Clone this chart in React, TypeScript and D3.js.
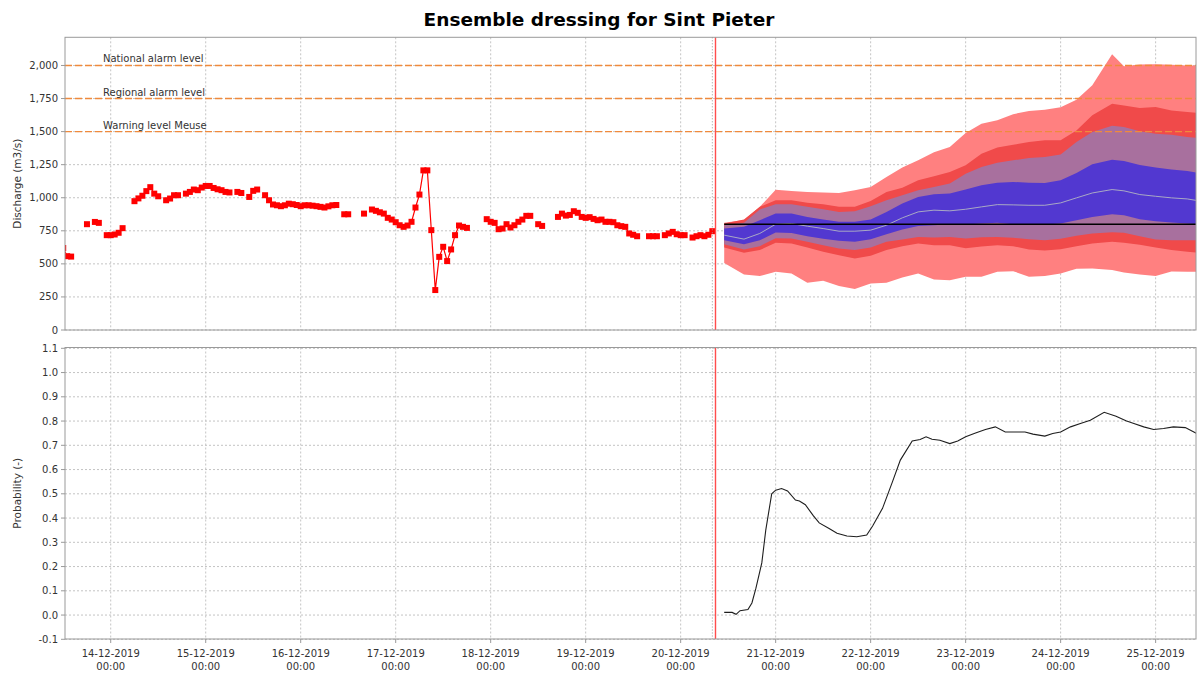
import React from "react";
import * as d3 from "d3";

// ---------- DATA ----------
// hours are counted from 14-12-2019 00:00
const chartTitle = "Ensemble dressing for Sint Pieter";
const dischargeAxisTitle = "Discharge (m3/s)";
const probabilityAxisTitle = "Probability (-)";

const dayTickHours = [0, 24, 48, 72, 96, 120, 144, 168, 192, 216, 240, 264];
const dayTickDates = [
  "14-12-2019", "15-12-2019", "16-12-2019", "17-12-2019", "18-12-2019", "19-12-2019",
  "20-12-2019", "21-12-2019", "22-12-2019", "23-12-2019", "24-12-2019", "25-12-2019",
];
const dayTickTime = "00:00";

const dischargeTicks = [0, 250, 500, 750, 1000, 1250, 1500, 1750, 2000];
const probabilityTicks = [-0.1, 0, 0.1, 0.2, 0.3, 0.4, 0.5, 0.6, 0.7, 0.8, 0.9, 1.0, 1.1];

const thresholdValues = [2000, 1750, 1500];
const thresholdLabels = ["National alarm level", "Regional alarm level", "Warning level Meuse"];

const exceedanceLevel = 800;
const lastObservationHour = 152;
const forecastStartHour = 152.8;

// observed discharge, hourly from obsStartHour (null = missing)
const obsStartHour = -12;
const observedDischarge: (number | null)[] = [
  620, 558, 555, null, null, null, 800, null, 817, 810, null, 717, 717, 722, 735, 770, // -12..3
  null, null, 974, 995, 1015, 1050, 1080, 1031, 1011, null, 981, 994, 1019, 1019, null, // 4..18
  1031, 1044, 1062, 1057, 1077, 1089, 1089, 1074, 1064, 1057, 1044, 1040, null, 1044, 1036, null, // 19..34
  1006, 1052, 1062, null, 1019, 981, 949, 943, 936, 943, 955, 951, 945, 936, 943, 943, // 35..50
  940, 936, 931, 926, 935, 943, 945, null, 875, 875, null, null, null, 880, null, // 51..65
  911, 901, 890, 880, 848, 835, 815, 792, 780, 790, 818, 926, 1024, 1207, 1207, 755, // 66..81
  302, 553, 629, 521, 609, 717, 790, 780, 772, null, null, null, null, // 82..94
  838, 818, 810, 762, 767, 800, 775, 792, 818, 835, 863, 863, null, 800, 787, // 95..109
  null, null, null, 855, 880, 865, 870, 898, 886, 855, 848, 853, 840, 830, 835, // 110..124
  818, 818, 815, 792, 785, 780, 730, 720, 709, null, null, 709, 709, 709, null, // 125..139
  717, 730, 742, 724, 717, 717, null, 699, 709, 717, 709, 720, 747, // 140..152
];

// ensemble forecast bands
const forecastHours = [
  155, 160, 164, 168, 172, 176, 180, 184, 188, 192, 196, 200, 204, 208, 212, 216,
  220, 224, 228, 232, 236, 240, 244, 248, 253, 256, 260, 264, 268, 272, 275,
];
const outerUpper = [
  811, 831, 931, 1060, 1050, 1044, 1039, 1036, 1057, 1082, 1157, 1228, 1283, 1343, 1384, 1490,
  1560, 1585, 1632, 1655, 1665, 1685, 1741, 1850, 2085, 1995, 2008, 2010, 2005, 2000, 2000,
];
const outerLower = [
  507, 420, 408, 440, 428, 357, 372, 332, 310, 352, 357, 397, 428, 382, 377, 403,
  403, 440, 445, 403, 408, 428, 463, 465, 453, 435, 420, 408, 443, 440, 440,
];
const redUpper = [
  805, 835, 931, 981, 981, 963, 951, 931, 931, 976, 1044, 1076, 1132, 1162, 1195, 1245,
  1333, 1379, 1401, 1421, 1434, 1434, 1509, 1623, 1711, 1698, 1678, 1686, 1660, 1648, 1640,
];
const redLower = [
  624, 584, 604, 659, 654, 624, 591, 566, 541, 561, 604, 634, 654, 641, 641, 619,
  631, 641, 634, 609, 601, 611, 634, 654, 667, 659, 644, 624, 604, 591, 584,
];
const purpleUpper = [
  792, 811, 911, 951, 951, 931, 913, 893, 898, 936, 981, 1019, 1057, 1082, 1107, 1182,
  1233, 1265, 1283, 1301, 1308, 1326, 1421, 1497, 1545, 1535, 1502, 1484, 1477, 1459, 1452,
];
const purpleLower = [
  649, 609, 634, 694, 692, 667, 641, 616, 604, 624, 667, 684, 704, 699, 704, 692,
  702, 704, 697, 687, 679, 689, 712, 730, 740, 735, 709, 684, 679, 679, 679,
];
const blueUpper = [
  767, 780, 830, 880, 880, 855, 835, 818, 818, 835, 893, 956, 1006, 1026, 1032, 1062,
  1094, 1114, 1119, 1114, 1112, 1132, 1187, 1253, 1288, 1278, 1248, 1228, 1213, 1202, 1187,
];
const blueLower = [
  679, 649, 679, 737, 734, 709, 689, 674, 667, 687, 724, 760, 787, 792, 800, 797,
  805, 810, 800, 797, 797, 805, 830, 855, 875, 868, 838, 823, 813, 805, 800,
];
const medianForecast = [
  717, 687, 730, 800, 805, 785, 767, 747, 747, 755, 792, 848, 893, 906, 901, 913,
  931, 948, 946, 943, 943, 961, 999, 1036, 1062, 1052, 1024, 1011, 999, 991, 976,
];

// probability of exceeding the level
const probabilityHours = [
  155, 157, 158, 159, 161, 162, 163, 164.5, 165.5, 167, 168, 169.5, 171, 173, 174, 175.5,
  177.5, 179, 181.5, 183.5, 186, 188.5, 191, 192.5, 195, 197.5, 199.5, 202.5, 204.5, 206,
  207.5, 209.5, 212, 214, 216, 218.5, 221, 223.5, 226, 231, 233, 236, 238, 240, 242.5,
  245, 247.5, 251, 254, 256.5, 258.5, 261, 263.5, 266, 268.5, 271.5, 274.3,
];
const probabilityValues = [
  0.011, 0.011, 0.003, 0.018, 0.023, 0.05, 0.11, 0.215, 0.35, 0.5, 0.515, 0.522, 0.512, 0.474, 0.47, 0.455,
  0.41, 0.38, 0.357, 0.337, 0.326, 0.323, 0.33, 0.367, 0.44, 0.549, 0.639, 0.718, 0.724, 0.735,
  0.725, 0.721, 0.707, 0.718, 0.735, 0.751, 0.765, 0.776, 0.755, 0.755, 0.746, 0.738, 0.749, 0.755, 0.776,
  0.79, 0.803, 0.836, 0.82, 0.801, 0.79, 0.776, 0.765, 0.769, 0.776, 0.773, 0.749,
];

// ---------- STYLE ----------
const FONT = "'DejaVu Sans', Verdana, sans-serif";
const GRID = "#c4c4c4";
const AXIS = "#9a9a9a";
const TEXT = "#333333";

export default function App() {
  const W = 1198;
  const H = 675;
  const left = 65;
  const right = 1196;
  const topY0 = 37.3;
  const topY1 = 330;
  const botY0 = 347.5;
  const botY1 = 639;

  const x = d3.scaleLinear().domain([-11.55, 274.2]).range([left, right]);
  const yQ = d3.scaleLinear().domain([0, 2213]).range([topY1, topY0]);
  const yP = d3.scaleLinear().domain([-0.1, 1.1]).range([639.3, 348.3]);

  const idx = forecastHours.map((_, i) => i);
  const band = (lo: number[], hi: number[]) =>
    d3
      .area<number>()
      .x((i) => x(forecastHours[i]))
      .y0((i) => yQ(lo[i]))
      .y1((i) => yQ(hi[i]))(idx) || "";
  const medianPath =
    d3
      .line<number>()
      .x((i) => x(forecastHours[i]))
      .y((i) => yQ(medianForecast[i]))(idx) || "";

  const obs = observedDischarge.map((v, i) => ({ h: obsStartHour + i, v }));
  const obsLine =
    d3
      .line<{ h: number; v: number | null }>()
      .defined((d) => d.v !== null)
      .x((d) => x(d.h))
      .y((d) => yQ(d.v as number))(obs) || "";

  const probPath =
    d3
      .line<number>()
      .x((_, i) => x(probabilityHours[i]))
      .y((p) => yP(p))(probabilityValues) || "";

  const fmtQ = d3.format(",");
  const sq = 6;

  return (
    <svg
      width={W}
      height={H}
      viewBox={`0 0 ${W} ${H}`}
      style={{ position: "absolute", left: 0, top: 0, background: "#fff", fontFamily: FONT }}
    >
      <defs>
        <clipPath id="clipTop">
          <rect x={left} y={topY0} width={right - left} height={topY1 - topY0} />
        </clipPath>
        <clipPath id="clipBot">
          <rect x={left} y={botY0} width={right - left} height={botY1 - botY0} />
        </clipPath>
      </defs>
      <rect x={0} y={0} width={W} height={H} fill="#ffffff" />

      {/* title */}
      <text x={W / 2} y={26} textAnchor="middle" fontSize={18.5} fontWeight="bold" fill="#000">
        {chartTitle}
      </text>

      {/* ===== TOP PANEL ===== */}
      <g>
        {dischargeTicks.map((t) => (
          <line key={"hg" + t} x1={left} x2={right} y1={yQ(t)} y2={yQ(t)} stroke={GRID} strokeDasharray="2,2" />
        ))}
        {dayTickHours.map((h) => (
          <line key={"vg" + h} x1={x(h)} x2={x(h)} y1={topY0} y2={topY1} stroke={GRID} strokeDasharray="2,2" />
        ))}

        <g clipPath="url(#clipTop)">
          <path d={band(outerLower, outerUpper)} fill="#ff8080" />
          <path d={band(redLower, redUpper)} fill="#f04a4a" />
          <path d={band(purpleLower, purpleUpper)} fill="#a8709e" />
          <path d={band(blueLower, blueUpper)} fill="#5238d0" />
          <path d={medianPath} fill="none" stroke="#a9a9c4" strokeWidth={1} />
        </g>

        {thresholdValues.map((v, i) => (
          <g key={"th" + v}>
            <line x1={left} x2={right} y1={yQ(v)} y2={yQ(v)} stroke="#f08a3c" strokeWidth={1.4} strokeDasharray="7,3" />
            <text x={103} y={yQ(v) - 3} fontSize={10} fill={TEXT}>
              {thresholdLabels[i]}
            </text>
          </g>
        ))}

        <g clipPath="url(#clipTop)">
          <line
            x1={x(forecastHours[0])}
            x2={x(forecastHours[forecastHours.length - 1])}
            y1={yQ(exceedanceLevel)}
            y2={yQ(exceedanceLevel)}
            stroke="#000"
            strokeWidth={1.5}
          />
          <path d={obsLine} fill="none" stroke="#ff0000" strokeWidth={1.2} />
          {obs
            .filter((d) => d.v !== null)
            .map((d) => (
              <rect key={"o" + d.h} x={x(d.h) - sq / 2} y={yQ(d.v as number) - sq / 2} width={sq} height={sq} fill="#ff0000" />
            ))}
        </g>

        <line x1={x(lastObservationHour)} x2={x(lastObservationHour)} y1={topY0} y2={topY1} stroke="#9a9a9a" strokeDasharray="1,2" />
        <line x1={x(forecastStartHour)} x2={x(forecastStartHour)} y1={topY0} y2={topY1} stroke="#ff4d4d" strokeWidth={1.4} />

        <rect x={left} y={topY0} width={right - left} height={topY1 - topY0} fill="none" stroke={AXIS} strokeWidth={1} />

        {dischargeTicks.map((t) => (
          <g key={"yt" + t}>
            <line x1={left - 4} x2={left} y1={yQ(t)} y2={yQ(t)} stroke={AXIS} />
            <text x={58} y={yQ(t) + 3.5} textAnchor="end" fontSize={10} fill={TEXT}>
              {fmtQ(t)}
            </text>
          </g>
        ))}
        <text
          transform={`translate(21, ${(topY0 + topY1) / 2}) rotate(-90)`}
          textAnchor="middle"
          fontSize={10.5}
          fill={TEXT}
        >
          {dischargeAxisTitle}
        </text>
      </g>

      {/* ===== BOTTOM PANEL ===== */}
      <g>
        {probabilityTicks.map((t) => (
          <line key={"phg" + t} x1={left} x2={right} y1={yP(t)} y2={yP(t)} stroke={GRID} strokeDasharray="2,2" />
        ))}
        {dayTickHours.map((h) => (
          <line key={"pvg" + h} x1={x(h)} x2={x(h)} y1={botY0} y2={botY1} stroke={GRID} strokeDasharray="2,2" />
        ))}

        <g clipPath="url(#clipBot)">
          <path d={probPath} fill="none" stroke="#1e1e1e" strokeWidth={1.1} />
        </g>

        <line x1={x(lastObservationHour)} x2={x(lastObservationHour)} y1={botY0} y2={botY1} stroke="#9a9a9a" strokeDasharray="1,2" />
        <line x1={x(forecastStartHour)} x2={x(forecastStartHour)} y1={botY0} y2={botY1} stroke="#ff4d4d" strokeWidth={1.4} />

        <rect x={left} y={botY0} width={right - left} height={botY1 - botY0} fill="none" stroke={AXIS} strokeWidth={1} />

        {probabilityTicks.map((t) => (
          <g key={"pt" + t}>
            <line x1={left - 4} x2={left} y1={yP(t)} y2={yP(t)} stroke={AXIS} />
            <text x={58} y={yP(t) + 3.5} textAnchor="end" fontSize={10} fill={TEXT}>
              {t.toFixed(1)}
            </text>
          </g>
        ))}
        <text
          transform={`translate(21, ${(botY0 + botY1) / 2}) rotate(-90)`}
          textAnchor="middle"
          fontSize={10.5}
          fill={TEXT}
        >
          {probabilityAxisTitle}
        </text>

        {dayTickHours.map((h, i) => (
          <g key={"xt" + h}>
            <line x1={x(h)} x2={x(h)} y1={botY1} y2={botY1 + 4} stroke={AXIS} />
            <text x={x(h)} y={657} textAnchor="middle" fontSize={10} fill={TEXT}>
              {dayTickDates[i]}
            </text>
            <text x={x(h)} y={670} textAnchor="middle" fontSize={10} fill={TEXT}>
              {dayTickTime}
            </text>
          </g>
        ))}
      </g>
    </svg>
  );
}
